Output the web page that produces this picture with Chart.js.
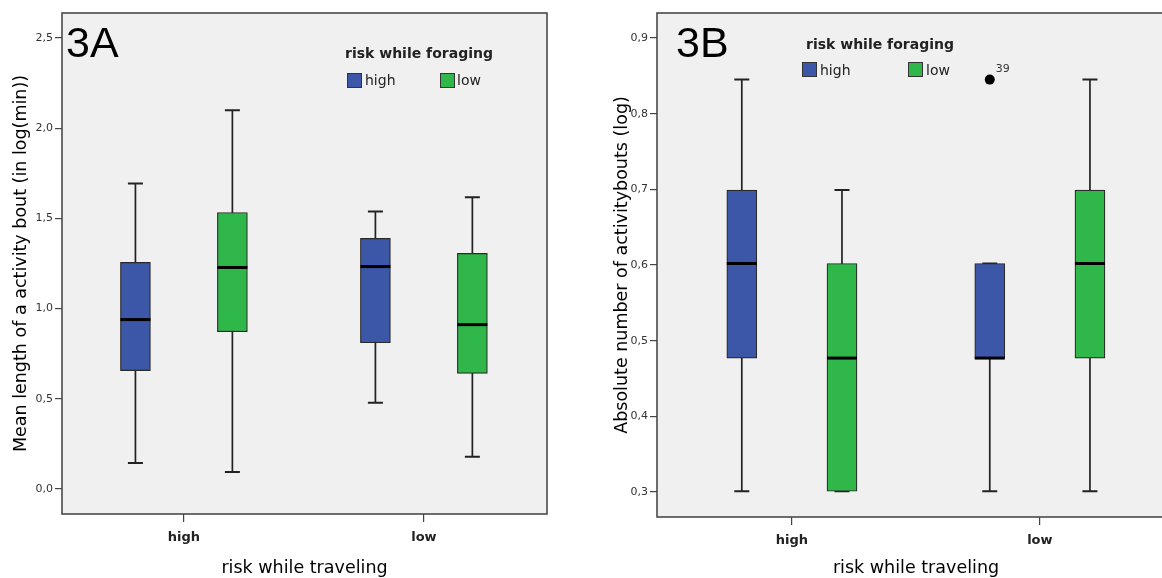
<!DOCTYPE html>
<html>
<head>
<meta charset="utf-8">
<script src="https://cdn.jsdelivr.net/npm/chart.js@4.4.1/dist/chart.umd.min.js"></script>
<style>
  html, body { margin:0; padding:0; background:#fff; }
  body { width:1162px; height:578px; overflow:hidden; position:relative; font-family:'DejaVu Sans', sans-serif; }
  .wrap { position:absolute; top:0; }
  .lbl { position:absolute; white-space:nowrap; color:#111; }
  .panel { font-family:'Liberation Sans', Arial, sans-serif; font-size:43px; line-height:43px; color:#000; }
  .ltitle { font-size:14px; line-height:14px; font-weight:bold; color:#222; }
  .litem { font-size:14px; line-height:14px; color:#222; }
  .sq { position:absolute; width:13px; height:13px; border:1px solid #333; }
</style>
</head>
<body>
<div class="wrap" style="left:0;width:580px;height:578px;"><canvas id="ca" width="580" height="578"></canvas></div>
<div class="wrap" style="left:580px;width:610px;height:578px;"><canvas id="cb" width="610" height="578"></canvas></div>

<div class="lbl panel" style="left:66px;top:21px;">3A</div>
<div class="lbl ltitle" style="left:345px;top:46px;">risk while foraging</div>
<div class="sq" style="left:347px;top:73px;background:#3c56a8;"></div>
<div class="lbl litem" style="left:365px;top:73px;">high</div>
<div class="sq" style="left:440px;top:73px;background:#2fb74a;"></div>
<div class="lbl litem" style="left:457px;top:73px;">low</div>

<div class="lbl panel" style="left:676px;top:21px;">3B</div>
<div class="lbl ltitle" style="left:806px;top:37px;">risk while foraging</div>
<div class="sq" style="left:802px;top:62px;background:#3c56a8;"></div>
<div class="lbl litem" style="left:820px;top:63px;">high</div>
<div class="sq" style="left:908px;top:62px;background:#2fb74a;"></div>
<div class="lbl litem" style="left:926px;top:63px;">low</div>

<script>
// ---------------- DATA ----------------
const travelCategories = ['high', 'low'];          // risk while traveling (x axis)
const foragingLabels = ['high', 'low'];            // risk while foraging (legend)

// Panel 3A: Mean length of a activity bout (in log(min))
const aBlueMin = [0.144, 0.478];
const aBlueQ1  = [0.656, 0.811];
const aBlueMed = [0.939, 1.233];
const aBlueQ3  = [1.256, 1.389];
const aBlueMax = [1.694, 1.539];
const aGreenMin = [0.094, 0.178];
const aGreenQ1  = [0.872, 0.641];
const aGreenMed = [1.228, 0.911];
const aGreenQ3  = [1.533, 1.306];
const aGreenMax = [2.100, 1.617];
const aYTicks = [0, 0.5, 1, 1.5, 2, 2.5];

// Panel 3B: Absolute number of activitybouts (log)
const bBlueMin = [0.301, 0.301];
const bBlueQ1  = [0.477, 0.477];
const bBlueMed = [0.602, 0.477];
const bBlueQ3  = [0.699, 0.602];
const bBlueMax = [0.845, 0.602];
const bGreenMin = [0.301, 0.301];
const bGreenQ1  = [0.301, 0.477];
const bGreenMed = [0.477, 0.602];
const bGreenQ3  = [0.602, 0.699];
const bGreenMax = [0.699, 0.845];
const bYTicks = [0.3, 0.4, 0.5, 0.6, 0.7, 0.8, 0.9];
const bOutlierTravelIdx = [1];     // travel 'low', foraging 'high'
const bOutlierValues = [0.845];
const bOutlierIds = ['39'];

// ---------------- STYLE ----------------
const FONT = "'DejaVu Sans', sans-serif";
const BLUE = '#3c56a8', GREEN = '#2fb74a';
const BOX_OFFSET = 0.202;

const framePlugin = {
  id: 'frame',
  beforeDraw(chart) {
    const {ctx, chartArea: a} = chart;
    ctx.save(); ctx.fillStyle = '#f0f0f0';
    ctx.fillRect(a.left, a.top, a.right - a.left, a.bottom - a.top);
    ctx.restore();
  },
  afterDraw(chart) {
    const {ctx, chartArea: a} = chart;
    ctx.save(); ctx.strokeStyle = '#4a4a4a'; ctx.lineWidth = 1.6;
    ctx.strokeRect(a.left, a.top, a.right - a.left, a.bottom - a.top);
    ctx.restore();
  }
};

const boxPlugin = {
  id: 'boxWhiskers',
  beforeDatasetsDraw(chart) {
    const ctx = chart.ctx, ys = chart.scales.y;
    chart.data.datasets.forEach((ds, di) => {
      if (!ds.whiskerMin) return;
      chart.getDatasetMeta(di).data.forEach((el, i) => {
        const x = el.x;
        const y0 = ys.getPixelForValue(ds.whiskerMin[i]);
        const y1 = ys.getPixelForValue(ds.whiskerMax[i]);
        ctx.save();
        ctx.strokeStyle = '#222'; ctx.lineWidth = 1.7;
        ctx.beginPath(); ctx.moveTo(x, y0); ctx.lineTo(x, y1); ctx.stroke();
        ctx.lineWidth = 2;
        ctx.beginPath();
        ctx.moveTo(x - 7.5, y0); ctx.lineTo(x + 7.5, y0);
        ctx.moveTo(x - 7.5, y1); ctx.lineTo(x + 7.5, y1);
        ctx.stroke();
        ctx.restore();
      });
    });
  },
  afterDatasetsDraw(chart) {
    const ctx = chart.ctx, ys = chart.scales.y;
    chart.data.datasets.forEach((ds, di) => {
      const meta = chart.getDatasetMeta(di);
      if (ds.median) {
        meta.data.forEach((el, i) => {
          const y = ys.getPixelForValue(ds.median[i]);
          ctx.save(); ctx.strokeStyle = '#000'; ctx.lineWidth = 3;
          ctx.beginPath(); ctx.moveTo(el.x - el.width / 2, y); ctx.lineTo(el.x + el.width / 2, y); ctx.stroke();
          ctx.restore();
        });
      }
      if (ds.pointIds) {
        meta.data.forEach((el, i) => {
          ctx.save(); ctx.fillStyle = '#333'; ctx.font = '11px ' + FONT;
          ctx.textBaseline = 'alphabetic'; ctx.textAlign = 'left';
          ctx.fillText(ds.pointIds[i], el.x + 6, el.y - 8);
          ctx.restore();
        });
      }
    });
  }
};

function boxDataset(label, color, q1, q3, mn, mx, med) {
  return {
    type: 'bar', label,
    data: travelCategories.map((c, i) => ({x: i + (label === foragingLabels[0] ? -BOX_OFFSET : BOX_OFFSET), y: [q1[i], q3[i]]})),
    backgroundColor: color, borderColor: '#2a2a2a', borderWidth: 1.2, borderSkipped: false,
    barThickness: 30, grouped: false,
    whiskerMin: mn, whiskerMax: mx, median: med
  };
}

function makeOptions(p) {
  return {
    responsive: false, animation: false,
    layout: {padding: {left: 0, top: 13, right: p.padRight, bottom: 0}},
    plugins: {legend: {display: false}, tooltip: {enabled: false}},
    scales: {
      x: {
        type: 'linear', min: p.xMin, max: p.xMax, offset: false,
        afterBuildTicks: s => { s.ticks = travelCategories.map((c, i) => ({value: i})); },
        afterFit: s => { s.height = p.xHeight; },
        ticks: {callback: v => travelCategories[v], font: {family: FONT, size: 13, weight: 'bold'}, color: '#222', padding: 8, maxRotation: 0, autoSkip: false},
        grid: {offset: false, drawOnChartArea: false, drawTicks: true, tickLength: 8, color: '#444', lineWidth: 1.2},
        border: {display: false},
        title: {display: true, text: 'risk while traveling', font: {family: FONT, size: 17.5}, color: '#000', padding: {top: 0, bottom: -1}}
      },
      y: {
        type: 'linear', min: p.yMin, max: p.yMax,
        afterBuildTicks: s => { s.ticks = p.yTicks.map(v => ({value: v})); },
        afterFit: s => { s.width = p.yWidth; },
        ticks: {callback: v => v.toFixed(1).replace('.', ','), font: {family: FONT, size: 11}, color: '#333', padding: 2},
        grid: {offset: false, drawOnChartArea: false, drawTicks: true, tickLength: 7, color: '#444', lineWidth: 1.2},
        border: {display: false},
        title: {display: true, text: p.yTitle, font: {family: FONT, size: 17.5}, color: '#000', padding: {top: p.yTitlePad, bottom: 0}}
      }
    }
  };
}

new Chart(document.getElementById('ca'), {
  type: 'bar',
  data: {datasets: [
    boxDataset(foragingLabels[0], BLUE, aBlueQ1, aBlueQ3, aBlueMin, aBlueMax, aBlueMed),
    boxDataset(foragingLabels[1], GREEN, aGreenQ1, aGreenQ3, aGreenMin, aGreenMax, aGreenMed)
  ]},
  options: makeOptions({padRight: 33, xMin: -0.508, xMax: 1.513, xHeight: 64, yMin: -0.139, yMax: 2.639, yTicks: aYTicks, yWidth: 62, yTitle: 'Mean length of a activity bout (in log(min))', yTitlePad: 11}),
  plugins: [framePlugin, boxPlugin]
});

new Chart(document.getElementById('cb'), {
  type: 'bar',
  data: {datasets: [
    boxDataset(foragingLabels[0], BLUE, bBlueQ1, bBlueQ3, bBlueMin, bBlueMax, bBlueMed),
    boxDataset(foragingLabels[1], GREEN, bGreenQ1, bGreenQ3, bGreenMin, bGreenMax, bGreenMed),
    {
      type: 'scatter', label: 'outlier',
      data: bOutlierTravelIdx.map((t, i) => ({x: t - BOX_OFFSET, y: bOutlierValues[i]})),
      pointIds: bOutlierIds,
      pointRadius: 5, pointBackgroundColor: '#000', pointBorderWidth: 0, showLine: false
    }
  ]},
  options: makeOptions({padRight: 15, xMin: -0.544, xMax: 1.545, xHeight: 61, yMin: 0.267, yMax: 0.933, yTicks: bYTicks, yWidth: 77, yTitle: 'Absolute number of activitybouts (log)', yTitlePad: 32}),
  plugins: [framePlugin, boxPlugin]
});
</script>
</body>
</html>
